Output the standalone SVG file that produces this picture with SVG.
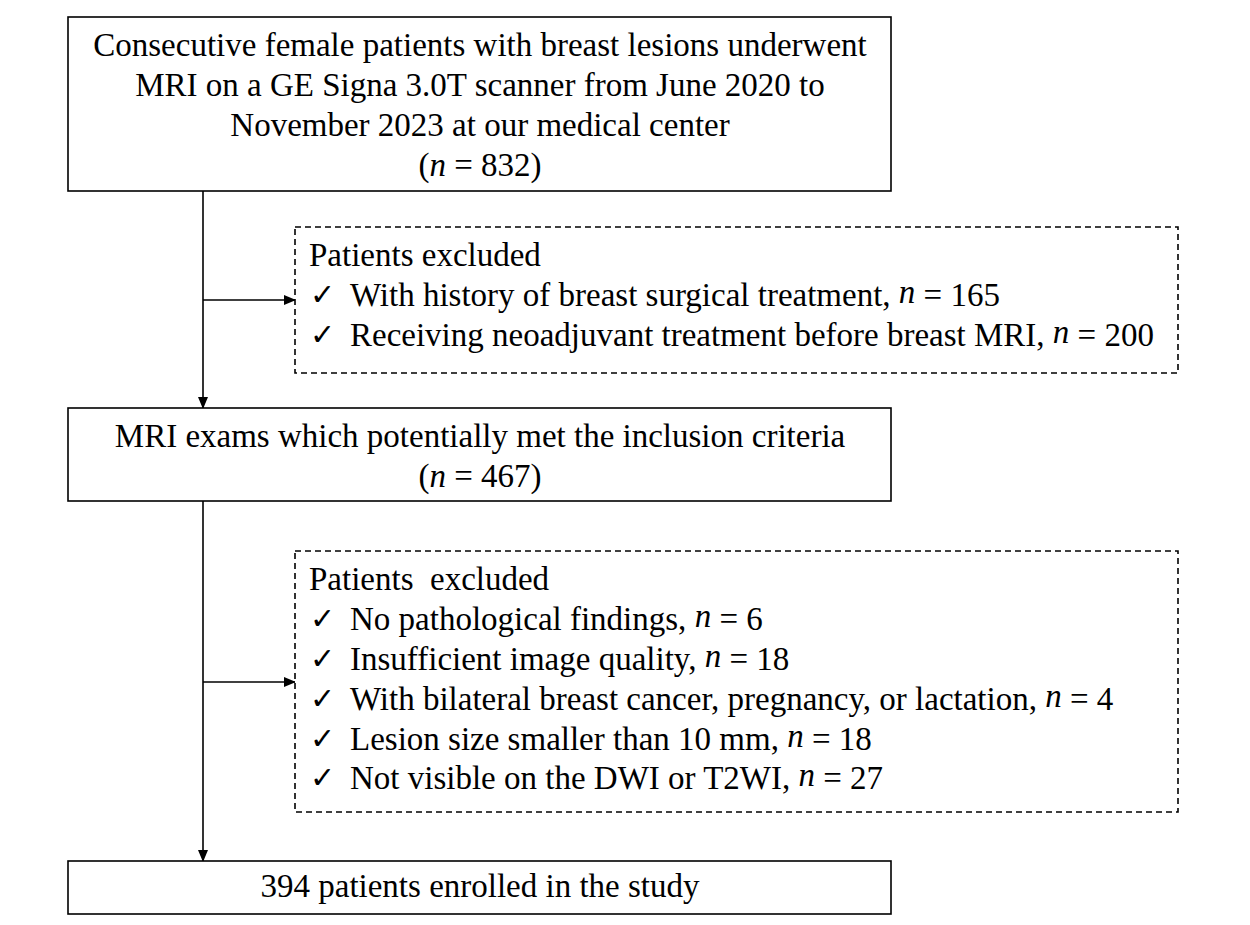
<svg xmlns="http://www.w3.org/2000/svg" width="1250" height="925" viewBox="0 0 1250 925">
<defs>
<marker id="ah" markerWidth="12" markerHeight="10" refX="11" refY="5" orient="auto" markerUnits="userSpaceOnUse">
<path d="M0,0 L12,5 L0,10 Z" fill="#000"/>
</marker>
<style>
.box{fill:#fff;stroke:#000;stroke-width:1.6}
.dash{fill:#fff;stroke:#000;stroke-width:1.6;stroke-dasharray:6,4}
.t{font-family:"Liberation Serif","Times New Roman",serif;font-size:33px;fill:#000}
.c{text-anchor:middle}
.ck{font-family:"DejaVu Sans",sans-serif;font-size:30px;fill:#000}
.line{stroke:#000;stroke-width:1.6;fill:none}
</style>
</defs>
<rect width="1250" height="925" fill="#fff"/>
<g id="connectors">
<line class="line" x1="203" y1="191" x2="203" y2="408" marker-end="url(#ah)"/>
<line class="line" x1="203" y1="300" x2="295" y2="300" marker-end="url(#ah)"/>
<line class="line" x1="203" y1="501" x2="203" y2="861" marker-end="url(#ah)"/>
<line class="line" x1="203" y1="682" x2="295" y2="682" marker-end="url(#ah)"/>
</g>
<g id="node1">
<rect class="box" x="68" y="17" width="823" height="174"/>
<text class="t c" x="480" y="56">Consecutive female patients with breast lesions underwent</text>
<text class="t c" x="480" y="96">MRI on a GE Signa 3.0T scanner from June 2020 to</text>
<text class="t c" x="480" y="136">November 2023 at our medical center</text>
<text class="t c" x="480" y="176">(<tspan font-style="italic">n</tspan> = 832)</text>
</g>
<g id="node2">
<rect class="dash" x="295" y="227" width="883" height="146"/>
<text class="t" x="309" y="266">Patients excluded</text>
<text class="ck" x="310" y="305">✓</text>
<text class="t" x="350" y="306">With history of breast surgical treatment, <tspan font-style="italic" dy="-3">n</tspan><tspan dy="3"> = 165</tspan></text>
<text class="ck" x="310" y="345">✓</text>
<text class="t" x="350" y="346">Receiving neoadjuvant treatment before breast MRI, <tspan font-style="italic" dy="-3">n</tspan><tspan dy="3"> = 200</tspan></text>
</g>
<g id="node3">
<rect class="box" x="68" y="408" width="823" height="93"/>
<text class="t c" x="480" y="447">MRI exams which potentially met the inclusion criteria</text>
<text class="t c" x="480" y="487">(<tspan font-style="italic">n</tspan> = 467)</text>
</g>
<g id="node4">
<rect class="dash" x="295" y="551" width="883" height="261"/>
<text class="t" x="309" y="590" xml:space="preserve">Patients  excluded</text>
<text class="ck" x="310" y="629">✓</text>
<text class="t" x="350" y="630">No pathological findings, <tspan font-style="italic" dy="-3">n</tspan><tspan dy="3"> = 6</tspan></text>
<text class="ck" x="310" y="669">✓</text>
<text class="t" x="350" y="670">Insufficient image quality, <tspan font-style="italic" dy="-3">n</tspan><tspan dy="3"> = 18</tspan></text>
<text class="ck" x="310" y="709">✓</text>
<text class="t" x="350" y="710">With bilateral breast cancer, pregnancy, or lactation, <tspan font-style="italic" dy="-3">n</tspan><tspan dy="3"> = 4</tspan></text>
<text class="ck" x="310" y="749">✓</text>
<text class="t" x="350" y="750">Lesion size smaller than 10 mm, <tspan font-style="italic" dy="-3">n</tspan><tspan dy="3"> = 18</tspan></text>
<text class="ck" x="310" y="788">✓</text>
<text class="t" x="350" y="789">Not visible on the DWI or T2WI, <tspan font-style="italic" dy="-3">n</tspan><tspan dy="3"> = 27</tspan></text>
</g>
<g id="node5">
<rect class="box" x="68" y="861" width="823" height="53"/>
<text class="t c" x="480" y="897">394 patients enrolled in the study</text>
</g>
</svg>
